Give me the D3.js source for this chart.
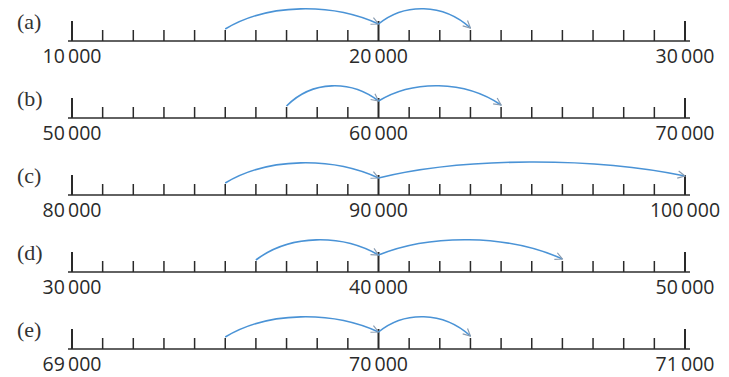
<html>
<head>
	<script src="https://d3js.org/d3.v7.min.js"></script>
	<style>
		body { margin: 0; background: #fff; }
	</style>
</head>
<body>
	<script>
		var width = 729;
		var height = 377;

		// one number line per part
		var parts    = ["(a)", "(b)", "(c)", "(d)", "(e)"];
		var lineFrom = [10000, 50000, 80000, 30000, 69000];
		var lineMid  = [20000, 60000, 90000, 40000, 70000];
		var lineTo   = [30000, 70000, 100000, 50000, 71000];
		// jumps: jumpStart -> middle -> jumpEnd
		var jumpStart = [15000, 57000, 85000, 36000, 69500];
		var jumpEnd   = [23000, 64000, 100000, 46000, 70300];

		var svg = d3.select("body").append("svg")
			.attr("width", width)
			.attr("height", height);

		svg.append("defs").append("marker")
			.attr("id", "head")
			.attr("viewBox", "0 0 10 10")
			.attr("refX", 9)
			.attr("refY", 5)
			.attr("markerWidth", 9)
			.attr("markerHeight", 9)
			.attr("markerUnits", "userSpaceOnUse")
			.attr("orient", "auto")
			.append("path")
			.attr("d", "M1,1 L9,5 L1,9")
			.attr("fill", "none")
			.attr("stroke", "#8a9cb0")
			.attr("stroke-width", 1.3);

		var rowY = d3.scalePoint().domain(parts).range([41, 349]);
		var fmt = d3.formatLocale({ decimal: ".", thousands: "\u2009", grouping: [3], currency: ["", ""] }).format(",");

		parts.forEach(function(p, i) {
			var y0 = rowY(p);
			var x = d3.scaleLinear().domain([lineFrom[i], lineTo[i]]).range([72, 685]);
			var g = svg.append("g");

			g.append("text")
				.attr("x", 17)
				.attr("y", y0 - 12)
				.attr("font-family", "Liberation Serif")
				.attr("font-size", 22)
				.attr("fill", "#333")
				.text(p);

			g.append("line")
				.attr("x1", 68).attr("x2", 690)
				.attr("y1", y0).attr("y2", y0)
				.attr("stroke", "#2e2e2e")
				.attr("stroke-width", 1.6);

			var majors = [lineFrom[i], lineMid[i], lineTo[i]];
			var ticks = x.ticks(20);

			g.selectAll(".tick").data(ticks).enter().append("line")
				.attr("x1", function(d) { return x(d); })
				.attr("x2", function(d) { return x(d); })
				.attr("y1", y0)
				.attr("y2", function(d) { return majors.indexOf(d) >= 0 ? y0 - 20 : y0 - 11; })
				.attr("stroke", "#2a2a2a")
				.attr("stroke-width", function(d) { return majors.indexOf(d) >= 0 ? 2 : 1.5; });

			g.selectAll(".lab").data(majors).enter().append("text")
				.attr("x", function(d) { return x(d); })
				.attr("y", y0 + 22)
				.attr("text-anchor", "middle")
				.attr("font-family", "Open Sans")
				.attr("font-size", 19.5)
				.attr("fill", "#2a2a2a")
				.text(function(d) { return fmt(d); });

			var hops = [[jumpStart[i], lineMid[i]], [lineMid[i], jumpEnd[i]]];
			g.selectAll(".hop").data(hops).enter().append("path")
				.attr("d", function(d) {
					var xa = x(d[0]), xb = x(d[1]);
					var ya = d[0] === lineMid[i] ? y0 - 17 : y0 - 12;
					var yb = d[1] === lineTo[i] ? y0 - 19 : (d[1] === lineMid[i] ? y0 - 17 : y0 - 13);
					var dx = xb - xa;
					var c = y0 - 38;
					return "M" + xa + "," + ya + " C" + (xa + dx * 0.28) + "," + c + " " + (xb - dx * 0.3) + "," + c + " " + xb + "," + yb;
				})
				.attr("fill", "none")
				.attr("stroke", "#4a93d6")
				.attr("stroke-width", 1.6)
				.attr("marker-end", "url(#head)");
		});
	</script>
</body>
</html>
